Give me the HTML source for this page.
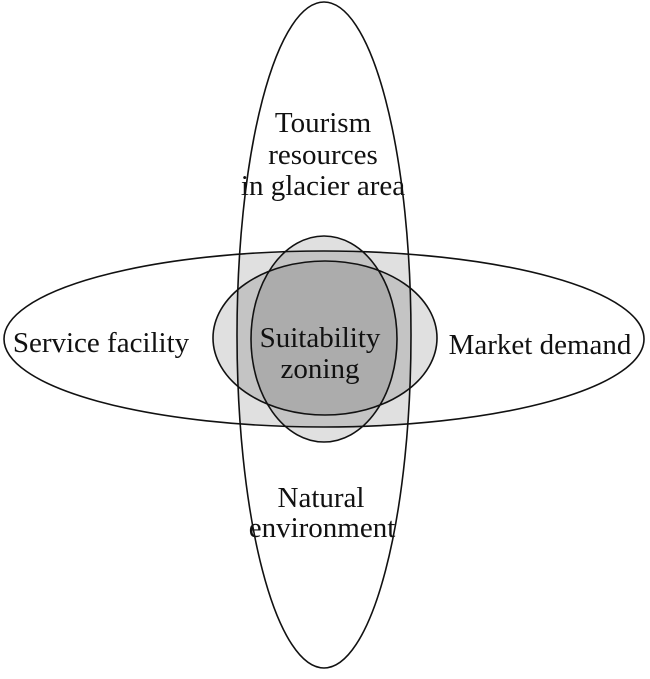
<!DOCTYPE html>
<html><head><meta charset="utf-8"><style>
html,body{margin:0;padding:0;background:#fff;}
svg{display:block;}
text{font-family:"Liberation Serif",serif;font-size:29px;fill:#111;text-anchor:middle;}
</style></head><body>
<svg width="650" height="679" viewBox="0 0 650 679" xmlns="http://www.w3.org/2000/svg">
<defs>
<clipPath id="ch"><ellipse cx="324" cy="339" rx="320" ry="88"/></clipPath>
</defs>
<g fill="#000" fill-opacity="0.12">
<ellipse cx="324" cy="335" rx="87" ry="333" clip-path="url(#ch)"/>
<ellipse cx="324" cy="339" rx="73" ry="103"/>
<ellipse cx="325" cy="338" rx="112" ry="77"/>
</g>
<g fill="none" stroke="#111" stroke-width="1.6">
<ellipse cx="324" cy="335" rx="87" ry="333"/>
<ellipse cx="324" cy="339" rx="320" ry="88"/>
<ellipse cx="324" cy="339" rx="73" ry="103"/>
<ellipse cx="325" cy="338" rx="112" ry="77"/>
</g>
<text x="323" y="132">Tourism</text>
<text x="323" y="164">resources</text>
<text x="323" y="195">in glacier area</text>
<text x="101" y="352">Service facility</text>
<text x="540" y="354">Market demand</text>
<text x="320" y="347">Suitability</text>
<text x="320" y="378">zoning</text>
<text x="321" y="507">Natural</text>
<text x="322" y="537">environment</text>
</svg>
</body></html>
